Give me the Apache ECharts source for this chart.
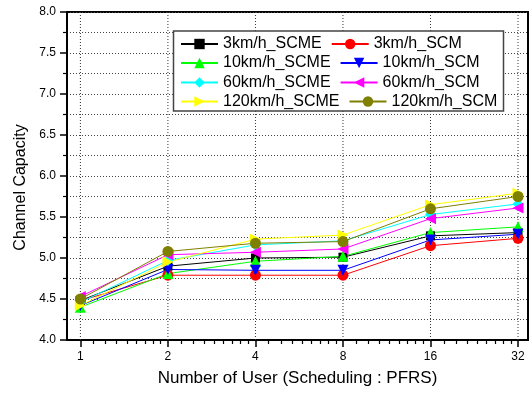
<!DOCTYPE html>
<html>
<head>
<meta charset="utf-8">
<script src="https://cdn.jsdelivr.net/npm/echarts@6/dist/echarts.min.js"></script>
<style>
  html, body { margin: 0; padding: 0; background: #fff; }
  #chart { width: 531px; height: 394px; }
</style>
</head>
<body>
<div id="chart"></div>
<script>
// number of users (log2 x axis)
const users = [1, 2, 4, 8, 16, 32]
const seriesNames = ['3km/h_SCME', '3km/h_SCM', '10km/h_SCME', '10km/h_SCM',
  '60km/h_SCME', '60km/h_SCM', '120km/h_SCME', '120km/h_SCM']

// channel capacity
const scme3 = [4.48, 4.90, 5.00, 5.01, 5.27, 5.31]
const scm3 = [4.48, 4.79, 4.79, 4.79, 5.15, 5.24]
const scme10 = [4.40, 4.81, 4.96, 5.02, 5.31, 5.38]
const scm10 = [4.42, 4.86, 4.85, 4.85, 5.22, 5.29]
const scme60 = [4.46, 4.97, 5.16, 5.21, 5.53, 5.66]
const scm60 = [4.53, 5.04, 5.07, 5.11, 5.48, 5.61]
const scme120 = [4.42, 4.95, 5.23, 5.28, 5.65, 5.79]
const scm120 = [4.50, 5.08, 5.18, 5.20, 5.60, 5.75]

// y range of the plot
const yMin = 4
const yMax = 8

// minor ticks of the log2 axis: 2^n * (1 + k/9)
const minorTicks = []
for (let n = 0; n < 5; n++) {
  for (let k = 1; k <= 8; k++) minorTicks.push(Math.pow(2, n) * (1 + k / 9))
}

const allValues = [scme3, scm3, scme10, scm10, scme60, scm60, scme120, scm120]
const colors = ['#000000', '#ff0000', '#00ff00', '#0000ff', '#00ffff', '#ff00ff', '#ffff00', '#808000']
const symbols = [
  'rect',
  'circle',
  'path://M5,0 L10,10 L0,10 Z',
  'path://M0,0 L10,0 L5,10 Z',
  'diamond',
  'path://M10,0 L10,10 L0,5 Z',
  'path://M0,0 L10,5 L0,10 Z',
  'circle'
]
const sizes = [9, 11, 11, 11, 11, 11, 11, 11]

const font = "'Liberation Sans', Arial, sans-serif"
const xMin = Math.pow(2, -0.153)
const xMax = Math.pow(2, 5.114)

let series = []
// vertical dotted grid lines at the major x ticks
users.forEach(function (u) {
  series.push({
    name: 'grid' + u,
    type: 'line',
    xAxisIndex: 0,
    data: [[u, yMax], [u, yMin]],
    symbol: 'none',
    silent: true,
    lineStyle: { color: '#333', width: 1, type: [1, 2] },
    emphasis: { disabled: true },
    z: 1
  })
})
allValues.forEach(function (vals, i) {
  series.push({
    name: seriesNames[i],
    type: 'line',
    xAxisIndex: 0,
    data: users.map(function (u, j) { return [u, vals[j]] }),
    symbol: symbols[i],
    symbolSize: sizes[i],
    color: colors[i],
    lineStyle: { width: 1, color: colors[i] },
    itemStyle: { color: colors[i] },
    z: 2
  })
})

let legends = []
for (let r = 0; r < 4; r++) {
  legends.push({
    left: 180,
    top: [36, 55, 74.5, 93.5][r],
    padding: 0,
    itemGap: 9,
    itemWidth: 37,
    itemHeight: 13,
    orient: 'horizontal',
    data: [seriesNames[r * 2], seriesNames[r * 2 + 1]],
    textStyle: { fontFamily: font, fontSize: 16, color: '#000', lineHeight: 16 },
    z: 10
  })
}

let myChart = echarts.init(document.getElementById('chart'))
let option = {
  animation: false,
  grid: {
    left: 67,
    top: 12,
    width: 461,
    height: 328,
    show: true,
    borderColor: '#000',
    borderWidth: 2,
    backgroundColor: 'transparent'
  },
  legend: legends,
  graphic: [{
    type: 'rect',
    z: 8,
    shape: { x: 173.5, y: 31, width: 330, height: 80 },
    style: { fill: '#fff', stroke: '#444', lineWidth: 1.5 }
  }],
  xAxis: [{
    type: 'log',
    logBase: 2,
    min: xMin,
    max: xMax,
    position: 'bottom',
    name: 'Number of User (Scheduling : PFRS)',
    nameLocation: 'middle',
    nameGap: 30,
    nameTextStyle: { fontFamily: font, fontSize: 17, color: '#000' },
    axisLine: { show: true, lineStyle: { color: '#000', width: 2 } },
    axisTick: { show: true, customValues: users, length: 7, lineStyle: { color: '#000', width: 1.5 } },
    axisLabel: {
      customValues: users,
      margin: 11,
      fontFamily: font,
      fontSize: 12,
      color: '#000',
      formatter: function (v) { return String(Math.round(v)) }
    },
    splitLine: { show: false }
  }, {
    type: 'log',
    logBase: 2,
    min: xMin,
    max: xMax,
    position: 'bottom',
    axisLine: { show: true, lineStyle: { color: '#000', width: 2 } },
    axisTick: { show: true, customValues: minorTicks, length: 4, lineStyle: { color: '#000', width: 1.2 } },
    axisLabel: { show: false },
    splitLine: { show: false }
  }],
  yAxis: {
    type: 'value',
    min: yMin,
    max: yMax,
    interval: 0.5,
    name: 'Channel Capacity',
    nameLocation: 'middle',
    nameGap: 38,
    nameTextStyle: { fontFamily: font, fontSize: 16, color: '#000', padding: [0, 23, 0, 0] },
    axisLine: { show: true, lineStyle: { color: '#000', width: 2 } },
    axisTick: { show: true, length: 7, lineStyle: { color: '#000', width: 1.5 } },
    minorTick: { show: true, splitNumber: 2, length: 4, lineStyle: { color: '#000', width: 1.2 } },
    axisLabel: {
      margin: 11,
      fontFamily: font,
      fontSize: 12,
      color: '#000',
      formatter: function (v) { return v.toFixed(1) }
    },
    splitLine: { show: true, lineStyle: { color: '#444', width: 1, type: [1, 2] } },
    minorSplitLine: { show: true, lineStyle: { color: '#444', width: 1, type: [1, 2] } }
  },
  series: series
}
myChart.setOption(option)
</script>
</body>
</html>
